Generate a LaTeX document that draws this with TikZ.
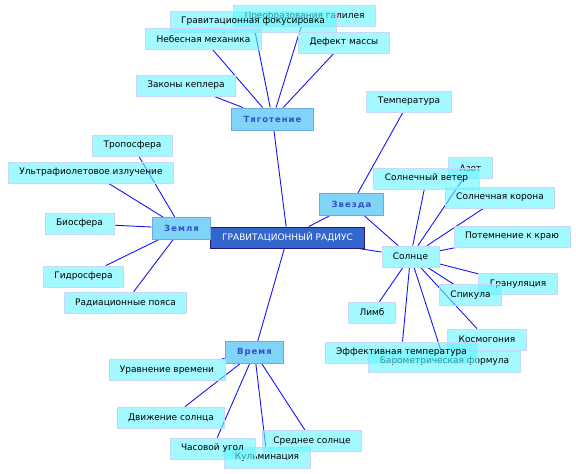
\documentclass[tikz,border=0pt]{standalone}
\usepackage{fontspec}
\setmainfont{DejaVu Sans}
\newfontfamily\hubfont[LetterSpace=12]{DejaVu Sans}
\usepackage{tikz}
\usetikzlibrary{backgrounds}
\definecolor{leaffill}{RGB}{100,245,255}
\definecolor{leafline}{RGB}{200,215,250}
\definecolor{hubfill}{RGB}{128,212,248}
\definecolor{hubline}{RGB}{110,170,225}
\definecolor{hubtext}{RGB}{50,80,200}
\definecolor{rootfill}{RGB}{51,102,204}
\definecolor{rootline}{RGB}{40,20,130}
\definecolor{edgeblue}{RGB}{20,20,255}

\begin{document}
\begin{tikzpicture}[
    x=1pt, y=-1pt,
    font=\fontsize{9}{11}\selectfont,
    leaf/.style={draw=leafline, fill=leaffill, fill opacity=0.6, text opacity=1, line width=0.8pt, inner xsep=11pt, inner ysep=0pt, minimum height=21pt},
    hub/.style={draw=hubline, fill=hubfill, line width=1pt, inner xsep=12pt, inner ysep=0pt, minimum height=22pt, text=hubtext, font=\hubfont\bfseries\fontsize{8.5}{10}\selectfont},
    root/.style={draw=rootline, fill=rootfill, line width=1pt, inner xsep=12pt, inner ysep=0pt, minimum height=21pt, text=white},
    edge/.style={draw=edgeblue, line width=0.9pt}
]
\useasboundingbox (0,0) rectangle (576,474);

% centre and hubs
\node[root] (root) at (287.5,237.5) {ГРАВИТАЦИОННЫЙ РАДИУС};
\node[hub] (tyag) at (272.5,119) {Тяготение};
\node[hub] (zvezda) at (351.5,204.5) {Звезда};
\node[hub] (zemlya) at (181.5,228.5) {Земля};
\node[hub] (vremya) at (254.5,352.5) {Время};

% Тяготение branch
\node[leaf] (preobr) at (304.5,16) {Преобразования галилея};
\node[leaf] (gravfok) at (253,21.5) {Гравитационная фокусировка};
\node[leaf] (nebmeh) at (203.5,39) {Небесная механика};
\node[leaf] (defekt) at (344,42.5) {Дефект массы};
\node[leaf] (kepler) at (186,85.5) {Законы кеплера};

% Земля branch
\node[leaf] (tropo) at (132.5,145.5) {Тропосфера};
\node[leaf] (ultra) at (91,172.5) {Ультрафиолетовое излучение};
\node[leaf] (bio) at (79.5,223.5) {Биосфера};
\node[leaf] (gidro) at (83.5,276.5) {Гидросфера};
\node[leaf] (radpoyas) at (125.5,302.5) {Радиационные пояса};

% Звезда branch
\node[leaf] (temp) at (409,101.5) {Температура};
\node[leaf] (solnce) at (410.5,256.5) {Солнце};
\node[leaf] (azot) at (470.5,168) {Азот};
\node[leaf] (veter) at (426.5,178.5) {Солнечный ветер};
\node[leaf] (korona) at (500,197.5) {Солнечная корона};
\node[leaf] (potemn) at (512,236.5) {Потемнение к краю};
\node[leaf] (granul) at (518,284) {Грануляция};
\node[leaf] (spikula) at (470.5,295) {Спикула};
\node[leaf] (limb) at (372,312.5) {Лимб};
\node[leaf] (kosmog) at (487,339.5) {Космогония};
\node[leaf] (barom) at (444.5,361.5) {Барометрическая формула};
\node[leaf] (efftemp) at (401.5,352.5) {Эффективная температура};

% Время branch
\node[leaf] (uravn) at (167,370) {Уравнение времени};
\node[leaf] (dvizh) at (171,417.5) {Движение солнца};
\node[leaf] (kulm) at (267,457.5) {Кульминация};
\node[leaf] (chas) at (212.5,448.5) {Часовой угол};
\node[leaf] (sredn) at (312,441) {Среднее солнце};

\begin{scope}[on background layer]
\foreach \j in {tyag, zvezda, zemlya, vremya, solnce}
  \draw[edge] (root) -- (\j);
\foreach \j in {preobr, gravfok, nebmeh, defekt, kepler}
  \draw[edge] (tyag) -- (\j);
\foreach \j in {tropo, ultra, bio, gidro, radpoyas}
  \draw[edge] (zemlya) -- (\j);
\foreach \j in {temp, solnce}
  \draw[edge] (zvezda) -- (\j);
\foreach \j in {azot, veter, korona, potemn, granul, spikula, limb, kosmog, barom, efftemp}
  \draw[edge] (solnce) -- (\j);
\foreach \j in {uravn, dvizh, kulm, chas, sredn}
  \draw[edge] (vremya) -- (\j);
\end{scope}

\end{tikzpicture}
\end{document}
